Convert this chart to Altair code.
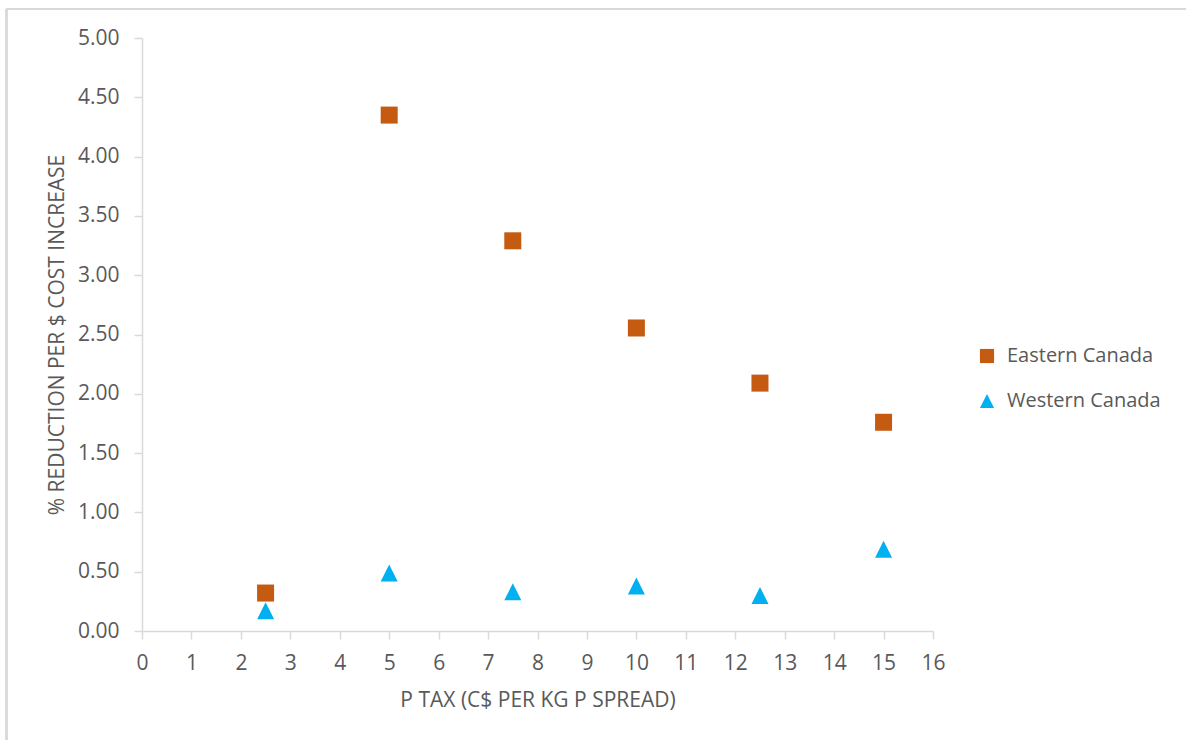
import altair as alt
import pandas as pd

# P tax levels (C$ per kg P spread)
tax = [2.5, 5, 7.5, 10, 12.5, 15]
# % reduction per $ cost increase, by region
eastern = [0.32, 4.35, 3.29, 2.555, 2.09, 1.76]
western = [0.17, 0.49, 0.33, 0.38, 0.30, 0.69]
regions = ["Eastern Canada", "Western Canada"]
colors = ["#C55A11", "#00B0F0"]
shapes = ["square", "M0,-1L1,1L-1,1Z"]

x_ticks = list(range(0, 17))
y_ticks = [i * 0.5 for i in range(0, 11)]

df = pd.DataFrame(
    [{"tax": t, "value": v, "region": regions[0]} for t, v in zip(tax, eastern)]
    + [{"tax": t, "value": v, "region": regions[1]} for t, v in zip(tax, western)]
)

FONT = "Open Sans"
TEXT = "#595959"
LINE = "#d9d9d9"
W, H = 791, 593
LEFT, TOP = 142, 38

points = alt.Chart(df).mark_point(filled=True, opacity=1, size=289).encode(
    x=alt.X(
        "tax:Q",
        scale=alt.Scale(domain=[0, 16], nice=False, zero=True),
        axis=alt.Axis(
            values=x_ticks,
            title="P TAX (C$ PER KG P SPREAD)",
            titleX=W / 2,
            titleY=69,
            titleBaseline="middle",
            titleAlign="center",
            labelPadding=13,
            labelFlush=False,
            tickSize=8,
        ),
    ),
    y=alt.Y(
        "value:Q",
        scale=alt.Scale(domain=[0, 5], nice=False),
        axis=alt.Axis(
            values=y_ticks,
            format=".2f",
            title="% REDUCTION PER $ COST INCREASE",
            titleAngle=-90,
            titleX=-85,
            titleY=H / 2,
            titleBaseline="middle",
            titleAlign="center",
            labelPadding=15,
            labelFlush=False,
            tickSize=8,
        ),
    ),
    color=alt.Color(
        "region:N",
        scale=alt.Scale(domain=regions, range=colors),
        legend=alt.Legend(
            title=None,
            orient="none",
            legendX=835,
            legendY=308,
            symbolSize=200,
            labelOffset=10,
            rowPadding=25,
            padding=0,
        ),
    ),
    shape=alt.Shape("region:N", scale=alt.Scale(domain=regions, range=shapes)),
)

# light frame around the chart (left and top edges)
frame_left = alt.Chart(df).mark_rule(color=LINE, strokeWidth=1.5).encode(
    x=alt.value(-135.5), y=alt.value(-29), y2=alt.value(740 - TOP)
)
frame_top = alt.Chart(df).mark_rule(color=LINE, strokeWidth=1.5).encode(
    y=alt.value(-29), x=alt.value(-135.5), x2=alt.value(1186 - LEFT)
)

chart = (
    alt.layer(frame_left, frame_top, points)
    .properties(
        width=W,
        height=H,
        autosize=alt.AutoSizeParams(type="none"),
        padding={"left": LEFT, "top": TOP, "right": 1186 - LEFT - W, "bottom": 740 - TOP - H},
        background="white",
    )
    .configure_view(stroke=None)
    .configure_axis(
        grid=False,
        domainColor=LINE,
        domainWidth=1.5,
        tickColor=LINE,
        tickWidth=1.5,
        labelFont=FONT,
        labelFontSize=21,
        labelColor=TEXT,
        titleFont=FONT,
        titleFontSize=21,
        titleColor=TEXT,
        titleFontWeight="normal",
    )
    .configure_legend(
        labelFont=FONT,
        labelFontSize=20,
        labelColor=TEXT,
        symbolStrokeWidth=0,
    )
)

chart.save("out.html", embed_options={"renderer": "svg", "actions": False})
